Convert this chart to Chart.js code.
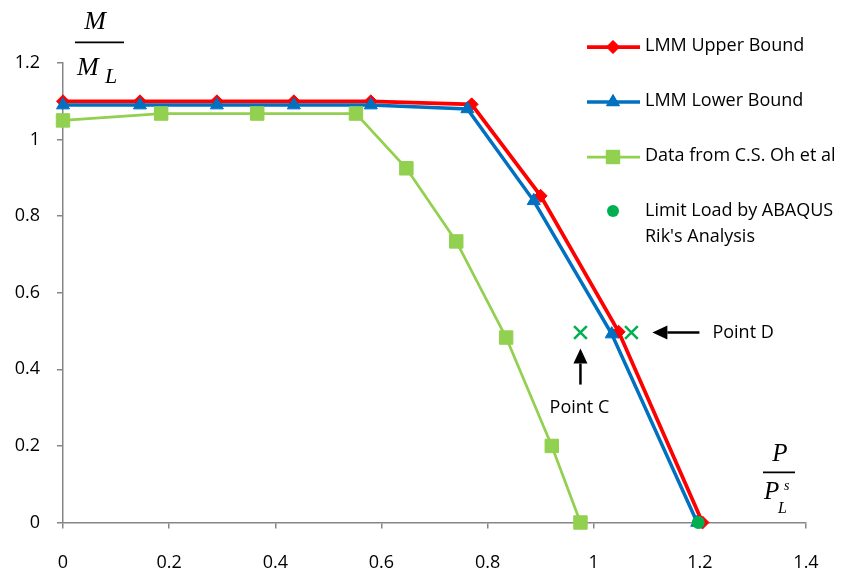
<!DOCTYPE html>
<html>
<head>
<meta charset="utf-8">
<script src="https://cdn.jsdelivr.net/npm/chart.js@4/dist/chart.umd.min.js"></script>
<style>
  html, body { margin: 0; padding: 0; background: #fff; }
  #wrap { position: relative; width: 845px; height: 571px; }
</style>
</head>
<body>
<div id="wrap"><canvas id="loadChart" width="845" height="571"></canvas></div>
<script>
// LMM upper bound
const upperX = [0, 0.145, 0.29, 0.435, 0.58, 0.77, 0.90, 1.047, 1.205];
const upperY = [1.10, 1.10, 1.10, 1.10, 1.10, 1.092, 0.853, 0.498, 0];
// LMM lower bound
const lowerX = [0, 0.145, 0.29, 0.435, 0.58, 0.762, 0.887, 1.034, 1.195];
const lowerY = [1.09, 1.09, 1.09, 1.09, 1.09, 1.08, 0.84, 0.492, 0];
// C.S. Oh et al
const ohX = [0, 0.185, 0.366, 0.552, 0.647, 0.741, 0.835, 0.921, 0.975];
const ohY = [1.05, 1.068, 1.068, 1.068, 0.925, 0.734, 0.483, 0.200, 0];
// ABAQUS Riks limit load
const riksX = [1.197];
const riksY = [0];
// Points C and D
const markX = [0.975, 1.071];
const markY = [0.496, 0.496];

const xTicks = [0, 0.2, 0.4, 0.6, 0.8, 1, 1.2, 1.4];
const yTicks = [0, 0.2, 0.4, 0.6, 0.8, 1, 1.2];

const RED = '#FF0000';
const BLUE = '#0070C0';
const LIME = '#92D050';
const GREEN = '#00B050';
const AXIS = '#868686';
const FONT = '"Open Sans", sans-serif';
const SERIF = '"Liberation Serif", serif';

function pts(xs, ys) {
    return xs.map((x, i) => ({ x: x, y: ys[i] }));
}

const series = [
    { label: 'LMM Upper Bound', data: pts(upperX, upperY), color: RED, style: 'rectRot', radius: 6.5, width: 3.75, order: 4 },
    { label: 'LMM Lower Bound', data: pts(lowerX, lowerY), color: BLUE, style: 'triangle', radius: 7.5, width: 3.5, order: 3 },
    { label: 'Data from C.S. Oh et al', data: pts(ohX, ohY), color: LIME, style: 'rect', radius: 9.5, width: 2.75, order: 2 }
];

const datasets = series.map(s => ({
    label: s.label,
    data: s.data,
    showLine: true,
    clip: false,
    borderColor: s.color,
    backgroundColor: s.color,
    borderWidth: s.width,
    pointStyle: s.style,
    pointRadius: s.radius,
    pointBorderWidth: 1,
    pointBackgroundColor: s.color,
    pointBorderColor: s.color,
    order: s.order
}));

datasets.push({
    label: "Limit Load by ABAQUS Rik's Analysis",
    data: pts(riksX, riksY),
    showLine: false,
    clip: false,
    pointStyle: 'circle',
    pointRadius: 6.5,
    pointBorderWidth: 0,
    backgroundColor: GREEN,
    borderColor: GREEN,
    order: 1
});

datasets.push({
    label: 'Points',
    data: pts(markX, markY),
    showLine: false,
    clip: false,
    pointStyle: 'crossRot',
    pointRadius: 9,
    pointBorderWidth: 2.5,
    borderColor: GREEN,
    backgroundColor: GREEN,
    order: 0
});

// legend drawn at the upper right, over the plot area
const legendPlugin = {
    id: 'sideLegend',
    afterDraw(chart) {
        const ctx = chart.ctx;
        const rows = [
            { s: series[0], y: 47 },
            { s: series[1], y: 102 },
            { s: series[2], y: 157 }
        ];
        ctx.save();
        rows.forEach(r => {
            ctx.strokeStyle = r.s.color;
            ctx.lineWidth = r.s.width;
            ctx.beginPath();
            ctx.moveTo(587, r.y);
            ctx.lineTo(640, r.y);
            ctx.stroke();
            ctx.fillStyle = r.s.color;
            ctx.lineWidth = 1;
            Chart.helpers.drawPoint(ctx, { pointStyle: r.s.style, radius: r.s.radius, rotation: 0, borderWidth: 1 }, 613, r.y);
            ctx.fill();
        });
        ctx.fillStyle = GREEN;
        ctx.beginPath();
        ctx.arc(613, 211, 6, 0, Math.PI * 2);
        ctx.fill();

        ctx.fillStyle = '#000';
        ctx.font = '18px ' + FONT;
        ctx.textBaseline = 'middle';
        ctx.textAlign = 'left';
        ctx.fillText('LMM Upper Bound', 645, 46);
        ctx.fillText('LMM Lower Bound', 645, 101);
        ctx.fillText('Data from C.S. Oh et al', 645, 156);
        ctx.fillText('Limit Load by ABAQUS', 645, 211);
        ctx.fillText("Rik's Analysis", 645, 237);
        ctx.restore();
    }
};

function arrow(ctx, x1, y1, x2, y2) {
    const ang = Math.atan2(y2 - y1, x2 - x1);
    const head = 15, half = 7;
    const bx = x2 - Math.cos(ang) * head;
    const by = y2 - Math.sin(ang) * head;
    ctx.lineWidth = 2.5;
    ctx.beginPath();
    ctx.moveTo(x1, y1);
    ctx.lineTo(bx, by);
    ctx.stroke();
    ctx.beginPath();
    ctx.moveTo(x2, y2);
    ctx.lineTo(bx - Math.sin(ang) * half, by + Math.cos(ang) * half);
    ctx.lineTo(bx + Math.sin(ang) * half, by - Math.cos(ang) * half);
    ctx.closePath();
    ctx.fill();
}

// axis fractions and point callouts
const notesPlugin = {
    id: 'notes',
    afterDraw(chart) {
        const ctx = chart.ctx;
        const xs = chart.scales.x, ys = chart.scales.y;
        ctx.save();
        ctx.fillStyle = '#000';
        ctx.strokeStyle = '#000';

        // M / M_L
        ctx.textBaseline = 'alphabetic';
        ctx.textAlign = 'center';
        ctx.font = 'italic 26px ' + SERIF;
        ctx.fillText('M', 95, 29);
        ctx.fillRect(75, 41.5, 49, 1.75);
        ctx.textAlign = 'left';
        ctx.fillText('M', 77, 75);
        ctx.font = 'italic 22px ' + SERIF;
        ctx.fillText('L', 105, 83);

        // P / P_L^s
        ctx.textAlign = 'center';
        ctx.font = 'italic 25px ' + SERIF;
        ctx.fillText('P', 780, 461);
        ctx.fillRect(763, 471.5, 32, 1.75);
        ctx.textAlign = 'left';
        ctx.fillText('P', 764, 499);
        ctx.font = 'italic 14px ' + SERIF;
        ctx.fillText('s', 784, 490);
        ctx.font = 'italic 16px ' + SERIF;
        ctx.fillText('L', 778, 513);

        // callouts
        const cx = xs.getPixelForValue(markX[0]);
        const dx = xs.getPixelForValue(markX[1]);
        const py = ys.getPixelForValue(markY[0]);
        arrow(ctx, cx, py + 52, cx, py + 16);
        arrow(ctx, dx + 68, py, dx + 21, py);
        ctx.font = '18px ' + FONT;
        ctx.textBaseline = 'middle';
        ctx.textAlign = 'center';
        ctx.fillText('Point C', cx - 1, py + 75);
        ctx.textAlign = 'left';
        ctx.fillText('Point D', dx + 81, py);
        ctx.restore();
    }
};

function tickText(v) {
    return String(Math.round(v * 10) / 10);
}

new Chart(document.getElementById('loadChart'), {
    type: 'scatter',
    data: { datasets: datasets },
    plugins: [legendPlugin, notesPlugin],
    options: {
        responsive: false,
        animation: false,
        events: [],
        layout: { padding: { top: 63, right: 39, left: 0, bottom: 0 } },
        plugins: {
            legend: { display: false },
            tooltip: { enabled: false }
        },
        scales: {
            x: {
                type: 'linear',
                min: 0,
                max: 1.4,
                afterBuildTicks: axis => { axis.ticks = xTicks.map(v => ({ value: v })); },
                afterFit: axis => { axis.height = 48.5; },
                border: { color: AXIS, width: 1.5 },
                grid: { drawOnChartArea: false, drawTicks: true, tickLength: 6, color: AXIS, lineWidth: 1.5 },
                ticks: {
                    color: '#000',
                    font: { family: FONT, size: 18 },
                    padding: 24,
                    maxRotation: 0,
                    callback: v => tickText(v)
                }
            },
            y: {
                type: 'linear',
                min: 0,
                max: 1.2,
                afterBuildTicks: axis => { axis.ticks = yTicks.map(v => ({ value: v })); },
                afterFit: axis => { axis.width = 63; },
                border: { color: AXIS, width: 1.5 },
                grid: { drawOnChartArea: false, drawTicks: true, tickLength: 6, color: AXIS, lineWidth: 1.5 },
                ticks: {
                    color: '#000',
                    font: { family: FONT, size: 18 },
                    padding: 17,
                    callback: v => tickText(v)
                }
            }
        }
    }
});
</script>
</body>
</html>
